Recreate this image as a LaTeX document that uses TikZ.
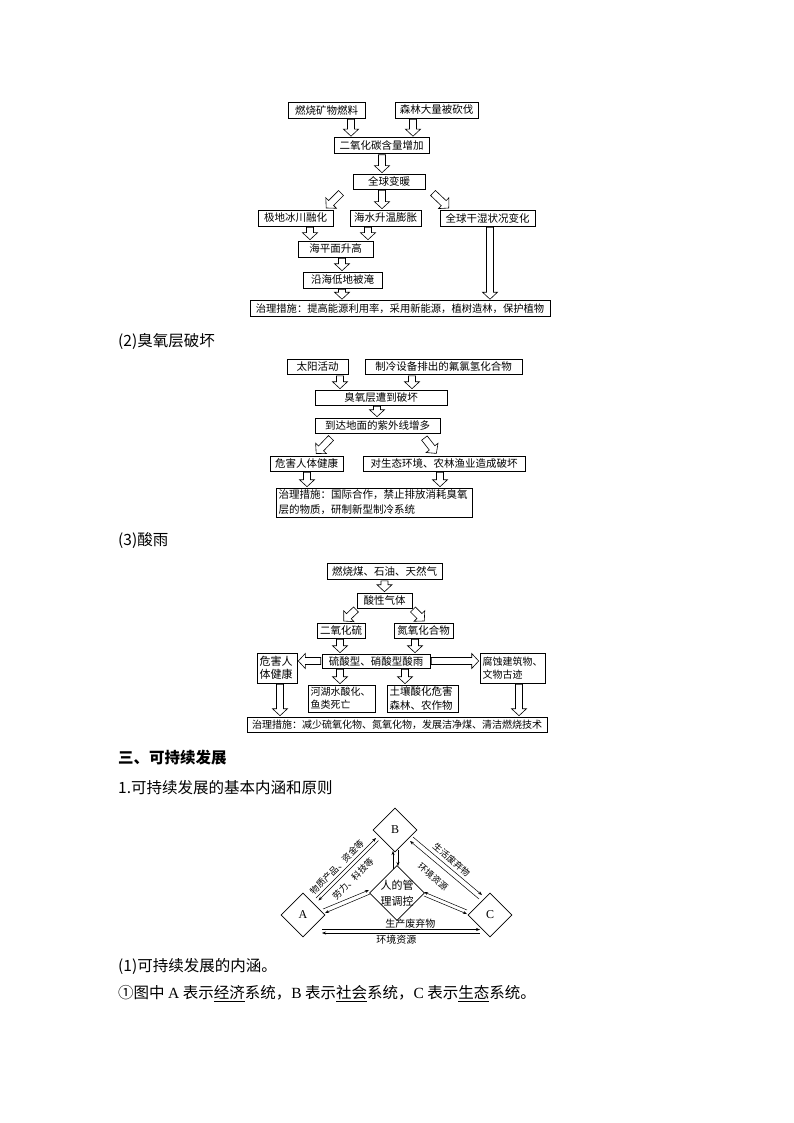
\documentclass[tikz,border=0pt]{standalone}
\usepackage{fontspec}
\setmainfont{Noto Sans CJK SC}
\newfontfamily\latserif{Liberation Serif}
\usetikzlibrary{calc,shapes.geometric,arrows.meta}
\newcommand\hollowdraw{%
  \path ($(hs)!1pt!(ht)$) coordinate (hs2) ($(ht)!1pt!(hs)$) coordinate (ht2);
  \path ($(ht2)!7pt!(hs2)$) coordinate (hh);
  \draw[hollow] ($(hs2)!3.5pt!90:(ht2)$) -- ($(hh)!3.5pt!90:(ht2)$) -- ($(hh)!7.5pt!90:(ht2)$) -- (ht2)
    -- ($(hh)!7.5pt!-90:(ht2)$) -- ($(hh)!3.5pt!-90:(ht2)$) -- ($(hs2)!3.5pt!-90:(ht2)$) -- cycle;}
\newcommand\varr[3]{\path (#1,0 |- #2) coordinate (hs) (#1,0 |- #3) coordinate (ht); \hollowdraw}
\newcommand\darr[2]{\path (#1) coordinate (hs) (#2) coordinate (ht); \hollowdraw}
\begin{document}
\begin{tikzpicture}[x=1pt,y=-1pt,
  >={Stealth[length=4pt,width=3pt]},
  hollow/.style={draw,line width=0.6pt,fill=white,line join=miter},
  box/.style={draw,line width=0.6pt,inner sep=0pt,minimum height=16pt,font=\fontsize{10.5}{13}\selectfont},
  mbox/.style={box,align=left,inner xsep=2.5pt},
  head/.style={anchor=west,inner sep=0pt,font=\fontsize{15.5}{18}\selectfont},
  dia/.style={draw,line width=0.6pt,shape=diamond,inner sep=0pt,minimum size=44pt,font=\latserif\fontsize{12}{14}\selectfont},
  thinl/.style={line width=0.5pt},
  lab/.style={inner sep=1pt,font=\fontsize{9}{10}\selectfont},
  hlab/.style={inner sep=1pt,font=\fontsize{10}{11}\selectfont}]
\useasboundingbox (0,0) rectangle (794,1123);
\fill[white] (0,0) rectangle (794,1123);

% ---------- diagram 1 ----------
\node[box,minimum width=77pt] (n11) at (326.5,110) {燃烧矿物燃料};
\node[box,minimum width=83pt] (n12) at (436.5,110) {森林大量被砍伐};
\node[box,minimum width=95pt] (n13) at (381.5,145.5) {二氧化碳含量增加};
\node[box,minimum width=72pt,minimum height=15pt] (n14) at (389,181.5) {全球变暖};
\node[box,minimum width=75pt] (n15) at (295.5,218) {极地冰川融化};
\node[box,minimum width=71pt] (n16) at (385.5,218) {海水升温膨胀};
\node[box,minimum width=95pt] (n17) at (487.5,218) {全球干湿状况变化};
\node[box,minimum width=75pt] (n18) at (335.5,249) {海平面升高};
\node[box,minimum width=79pt] (n19) at (342.5,280) {沿海低地被淹};
\node[box,minimum width=300pt,font=\fontsize{10.3}{13}\selectfont] (n1a) at (400,308.5) {治理措施：提高能源利用率，采用新能源，植树造林，保护植物};

\varr{351}{n11.south}{n13.north}
\varr{413}{n12.south}{n13.north}
\varr{382}{n13.south}{n14.north}
\darr{$(n14.south west)+(-11,3)$}{$(n15.north)+(30,-1)$}
\varr{382}{n14.south}{n16.north}
\darr{$(n14.south east)+(7,3)$}{$(n17.north)+(-38,-1)$}
\varr{310}{n15.south}{n18.north}
\varr{368}{n16.south}{n18.north}
\varr{342}{n18.south}{n19.north}
\varr{342}{n19.south}{n1a.north}
\varr{490}{n17.south}{n1a.north}

% ---------- heading (2) ----------
\node[head] (h2) at (118,341) {(2)臭氧层破坏};

% ---------- diagram 2 ----------
\node[box,minimum width=61pt,minimum height=15pt] (n21) at (317.5,367) {太阳活动};
\node[box,minimum width=157pt,minimum height=15pt] (n22) at (443.5,367) {制冷设备排出的氟氯氢化合物};
\node[box,minimum width=132pt,minimum height=15pt] (n23) at (381,397.5) {臭氧层遭到破坏};
\node[box,minimum width=125pt,minimum height=15pt] (n24) at (377.5,425.5) {到达地面的紫外线增多};
\node[box,minimum width=73pt,minimum height=15pt] (n25) at (306.5,463.5) {危害人体健康};
\node[box,minimum width=162pt,minimum height=15pt] (n26) at (444,463.5) {对生态环境、农林渔业造成破坏};
\node[mbox,text width=191pt,minimum height=29pt,font=\fontsize{10.5}{15}\selectfont] (n27) at (374,502.5) {治理措施：国际合作，禁止排放消耗臭氧\\层的物质，研制新型制冷系统};

\varr{340}{n21.south}{n23.north}
\varr{412}{n22.south}{n23.north}
\varr{377}{n23.south}{n24.north}
\darr{$(n24.south west)+(17,4)$}{$(n25.north)+(9,-1.5)$}
\darr{$(n24.south east)+(-16.5,4)$}{$(n26.north)+(-7,-1.5)$}
\varr{307}{n25.south}{n27.north}
\varr{440}{n26.south}{n27.north}

% ---------- heading (3) ----------
\node[head] (h3) at (118,541) {(3)酸雨};

% ---------- diagram 3 ----------
\node[box,minimum width=115pt,minimum height=16pt] (n31) at (384.5,571.5) {燃烧煤、石油、天然气};
\node[box,minimum width=55pt,minimum height=15pt] (n32) at (384.5,600.5) {酸性气体};
\node[box,minimum width=48pt,minimum height=15pt] (n33) at (341,630.5) {二氧化硫};
\node[box,minimum width=59pt,minimum height=15pt] (n34) at (423.5,630.5) {氮氧化合物};
\node[box,minimum width=108pt,minimum height=14pt] (n35) at (376,661) {硫酸型、硝酸型酸雨};
\node[mbox,text width=35pt,minimum height=30pt,font=\fontsize{11}{13.3}\selectfont] (n36) at (277,668) {危害人\\体健康};
\node[mbox,text width=60pt,minimum height=30pt,font=\fontsize{10}{13.3}\selectfont] (n37) at (512.5,668) {腐蚀建筑物、\\文物古迹};
\node[mbox,text width=62pt,minimum height=27pt,font=\fontsize{10}{13.3}\selectfont] (n38) at (341.5,698.5) {河湖水酸化、\\鱼类死亡};
\node[mbox,text width=66pt,minimum height=27pt,font=\fontsize{10.5}{13.3}\selectfont] (n39) at (422.5,698.5) {土壤酸化危害\\森林、农作物};
\node[box,minimum width=300pt,minimum height=15pt,font=\fontsize{10}{12}\selectfont] (n3a) at (397,724.5) {治理措施：减少硫氧化物、氮氧化物，发展洁净煤、清洁燃烧技术};

\varr{384.5}{n31.south}{n32.north}
\darr{$(n32.south west)+(0,0.5)$}{$(n33.north)+(2,-1)$}
\darr{$(n32.south east)+(0,0.5)$}{$(n34.north)+(1.5,-1)$}
\varr{340}{n33.south}{n35.north}
\varr{415}{n34.south}{n35.north}
\darr{n35.west}{n36.east |- n35.west}
\darr{n35.east}{n37.west |- n35.east}
\varr{340}{n35.south}{n38.north}
\varr{405}{n35.south}{n39.north}
\varr{280}{n36.south}{n3a.north}
\varr{519}{n37.south}{n3a.north}

% ---------- text ----------
\node[head,font=\fontsize{15.5}{18}\selectfont\bfseries] (h4) at (118,758) {三、可持续发展};
\node[head] (h5) at (118,788) {1.可持续发展的基本内涵和原则};

% ---------- diagram 4 ----------
\node[dia] (B) at (395,830) {B};
\node[dia] (A) at (303,915) {A};
\node[dia] (C) at (490,915) {C};
\node[dia,minimum size=55pt] (M) at (397,893) {};
\node[align=center,inner sep=0pt,font=\fontsize{11}{16}\selectfont] (Mt) at (M) {人的管\\理调控};

\draw[thinl,->] ($(A)+(13,-17)$) -- node[lab,sloped,above=1.5pt,pos=0.43] (l1) {物质产品、资金等} ($(B)+(-19,8)$);
\draw[thinl,<-] ($(A)+(15.5,-14.5)$) -- node[lab,sloped,below=3.5pt,pos=0.47] (l2) {劳力、科技等} ($(B)+(-16.5,10.5)$);
\draw[thinl,->] ($(B)+(18,7)$) -- node[lab,sloped,above=2pt,pos=0.49] (l3) {生活废弃物} ($(C)+(-8,-20)$);
\draw[thinl,<-] ($(B)+(15,11)$) -- node[lab,sloped,below=7pt,pos=0.45] (l4) {环境资源} ($(C)+(-11,-16)$);
\draw[thinl,->] ($(A)+(20,-6)$) -- ($(M)+(-28,-3)$);
\draw[thinl,<-] ($(A)+(22,-2)$) -- ($(M)+(-27,1)$);
\draw[thinl,<-] ($(B)+(-2,21)$) -- ($(M)+(-4,-24)$);
\draw[thinl,->] ($(B)+(3,20)$) -- ($(M)+(1,-27)$);
\draw[thinl,<-] ($(M)+(27,-1)$) -- ($(C)+(-23,-5)$);
\draw[thinl,->] ($(M)+(27,3)$) -- ($(C)+(-23,-1)$);
\draw[thinl,->] ($(A)+(19,14.5)$) -- node[hlab,above=0pt,pos=0.56] (l5) {生产废弃物} ($(C)+(-10,14.5)$);
\draw[thinl,<-] ($(A)+(19,18)$) -- node[hlab,below=1pt,pos=0.47] (l6) {环境资源} ($(C)+(-10,18)$);

% ---------- text ----------
\node[head] (h6) at (118,966) {(1)可持续发展的内涵。};
\node[head] (h7) at (118,994) {①图中 {\latserif A} 表示\underline{经济}系统，{\latserif B} 表示\underline{社会}系统，{\latserif C} 表示\underline{生态}系统。};
\end{tikzpicture}
\end{document}
